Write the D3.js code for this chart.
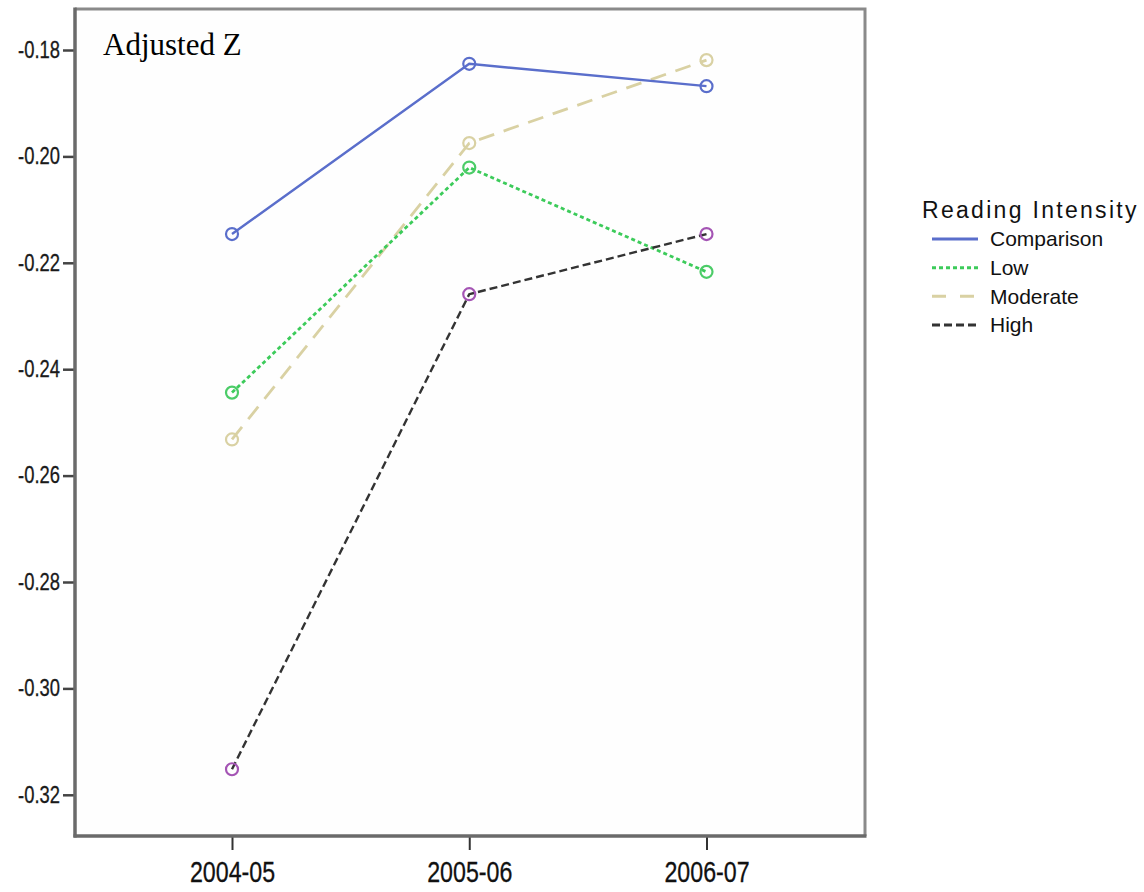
<!DOCTYPE html>
<html>
<head>
<meta charset="utf-8">
<script src="https://cdn.jsdelivr.net/npm/d3@7"></script>
<style>
  html, body { margin: 0; padding: 0; background: #fff; }
  svg { display: block; }
</style>
</head>
<body>
<svg id="chart" width="1144" height="892"></svg>
<script>
// ---- Data ----
const years = ["2004-05", "2005-06", "2006-07"];
const seriesNames = ["Comparison", "Low", "Moderate", "High"];
const comparison = [-0.2146, -0.1826, -0.1868];
const low = [-0.2444, -0.2021, -0.2217];
const moderate = [-0.2532, -0.1975, -0.1819];
const high = [-0.3152, -0.2259, -0.2146];
const yTicks = [-0.18, -0.20, -0.22, -0.24, -0.26, -0.28, -0.30, -0.32];
const yTickLabels = ["-0.18", "-0.20", "-0.22", "-0.24", "-0.26", "-0.28", "-0.30", "-0.32"];
const legendTitle = "Reading Intensity";
const chartLabel = "Adjusted Z";

const seriesValues = [comparison, low, moderate, high];
const styles = [
  { line: "#5a6ecb", marker: "#5a6ecb", dash: null, width: 2.4 },
  { line: "#3ccb5a", marker: "#4ccc68", dash: "4,3", width: 2.8 },
  { line: "#d9d1a3", marker: "#d9d1a3", dash: "16,10", width: 2.8 },
  { line: "#333333", marker: "#a454b4", dash: "8,4", width: 2.4 }
];

const svg = d3.select("#chart");
const frame = { left: 75, top: 9, right: 865, bottom: 836 };

const x = d3.scalePoint().domain(years).range([232, 706.5]);
// -0.18 at y=50, 106.4px per 0.02
const y = d3.scaleLinear().domain([-0.18, -0.32]).range([50, 50 + 7 * 106.4]);

// plot background
svg.append("rect")
  .attr("x", frame.left).attr("y", frame.top)
  .attr("width", frame.right - frame.left).attr("height", frame.bottom - frame.top)
  .attr("fill", "#fefefe");

// frame top/right
svg.append("path")
  .attr("d", `M${frame.left},${frame.top}H${frame.right}V${frame.bottom}`)
  .attr("fill", "none").attr("stroke", "#8a8a8a").attr("stroke-width", 3);

// Y axis
const yAxis = d3.axisLeft(y).tickValues(yTicks)
  .tickFormat((d, i) => yTickLabels[i]).tickSize(12).tickPadding(3);
const gy = svg.append("g").attr("transform", `translate(${frame.left},0)`).call(yAxis);
gy.select(".domain").remove();
gy.selectAll(".tick line").attr("stroke", "#444").attr("stroke-width", 2.5);
gy.selectAll(".tick text")
  .attr("fill", "#1a1a1a")
  .attr("font-family", "Liberation Sans, Arial, sans-serif")
  .attr("font-size", 23)
  .attr("stroke", "#1a1a1a").attr("stroke-width", 0.3)
  .each(function () {
    const t = d3.select(this);
    const xx = +t.attr("x");
    t.attr("x", null).attr("transform", `translate(${xx},0) scale(0.8,1)`);
  });
svg.append("line")
  .attr("x1", frame.left).attr("x2", frame.left)
  .attr("y1", frame.top - 1.5).attr("y2", frame.bottom + 1.5)
  .attr("stroke", "#6a6a6a").attr("stroke-width", 3.5);

// X axis
const xAxis = d3.axisBottom(x).tickSize(14).tickPadding(12);
const gx = svg.append("g").attr("transform", `translate(0,${frame.bottom})`).call(xAxis);
gx.select(".domain").remove();
gx.selectAll(".tick line").attr("stroke", "#333").attr("stroke-width", 2);
gx.selectAll(".tick text")
  .attr("fill", "#111")
  .attr("font-family", "Liberation Sans, Arial, sans-serif")
  .attr("font-size", 29)
  .attr("stroke", "#111").attr("stroke-width", 0.3)
  .each(function () {
    const t = d3.select(this);
    const yy = +t.attr("y");
    t.attr("y", null).attr("dy", "0.71em").attr("transform", `translate(0,${yy - 1}) scale(0.8,1)`);
  });
svg.append("line")
  .attr("x1", frame.left - 1.5).attr("x2", frame.right + 1.5)
  .attr("y1", frame.bottom).attr("y2", frame.bottom)
  .attr("stroke", "#6a6a6a").attr("stroke-width", 3.5);

// Label
svg.append("text")
  .attr("x", 103).attr("y", 55)
  .attr("font-family", "Liberation Serif, Times New Roman, serif")
  .attr("font-size", 31)
  .attr("fill", "#000")
  .text(chartLabel);

// Lines
const line = d3.line().x((d, i) => x(years[i])).y(d => y(d));
// draw order: Moderate, Low, High, Comparison
const order = [2, 1, 3, 0];
order.forEach(k => {
  svg.append("path")
    .datum(seriesValues[k])
    .attr("d", line)
    .attr("fill", "none")
    .attr("stroke", styles[k].line)
    .attr("stroke-width", styles[k].width)
    .attr("stroke-dasharray", styles[k].dash);
});
order.forEach(k => {
  svg.append("g").selectAll("circle")
    .data(seriesValues[k])
    .join("circle")
    .attr("cx", (d, i) => x(years[i]))
    .attr("cy", d => y(d))
    .attr("r", 6)
    .attr("fill", "none")
    .attr("stroke", styles[k].marker)
    .attr("stroke-width", 2.2);
});

// Legend
const lg = svg.append("g");
lg.append("text")
  .attr("x", 922).attr("y", 218)
  .attr("font-family", "Liberation Sans, Arial, sans-serif")
  .attr("font-size", 23)
  .attr("letter-spacing", 2.3)
  .attr("fill", "#111")
  .text(legendTitle);
const ly = d3.scalePoint().domain(seriesNames).range([239, 325]);
seriesNames.forEach((name, k) => {
  const yy = ly(name);
  lg.append("line")
    .attr("x1", 932).attr("x2", 978)
    .attr("y1", yy).attr("y2", yy)
    .attr("stroke", k === 3 ? "#333" : styles[k].line)
    .attr("stroke-width", 3)
    .attr("stroke-dasharray", k === 2 ? "14,14" : styles[k].dash);
  lg.append("text")
    .attr("x", 990).attr("y", yy)
    .attr("dy", "0.35em")
    .attr("font-family", "Liberation Sans, Arial, sans-serif")
    .attr("font-size", 21)
    .attr("fill", "#111")
    .text(name);
});
</script>
</body>
</html>
